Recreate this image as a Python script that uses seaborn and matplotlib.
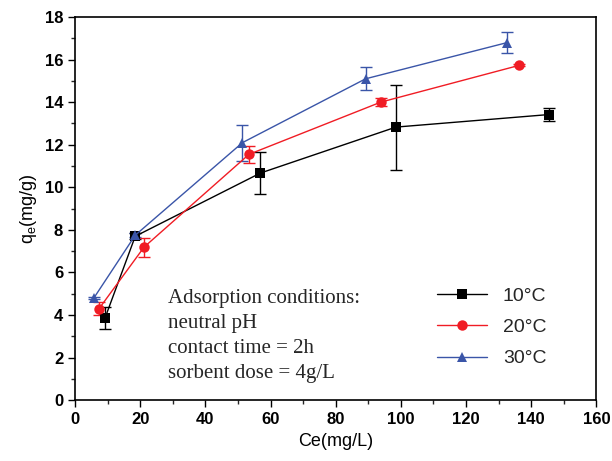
import pandas as pd
import matplotlib
matplotlib.use("Agg")
import matplotlib.pyplot as plt
import seaborn as sns
from matplotlib.ticker import MultipleLocator

# Data
ce_10 = [9.2, 18.5, 56.9, 98.5, 145.5]
qe_10 = [3.85, 7.7, 10.67, 12.83, 13.42]
err_10 = [0.52, 0.15, 1.0, 2.0, 0.3]

ce_20 = [7.4, 21.2, 53.4, 93.8, 136.3]
qe_20 = [4.3, 7.19, 11.55, 14.0, 15.73]
err_20 = [0.3, 0.45, 0.4, 0.2, 0.05]

ce_30 = [5.8, 18.5, 51.4, 89.2, 132.6]
qe_30 = [4.8, 7.75, 12.1, 15.1, 16.8]
err_30 = [0.05, 0.1, 0.85, 0.55, 0.5]

labels = ["10°C", "20°C", "30°C"]
colors = ["#000000", "#f01c24", "#3a55a8"]
markers = ["s", "o", "^"]

frames = []
for lab, x, y in zip(labels, [ce_10, ce_20, ce_30], [qe_10, qe_20, qe_30]):
    frames.append(pd.DataFrame({"Ce": x, "qe": y, "T": lab}))
df = pd.concat(frames, ignore_index=True)

sns.set_theme(style="white")
plt.rcParams["font.family"] = ["Liberation Sans", "DejaVu Sans"]

fig = plt.figure(figsize=(6.12, 4.61), dpi=100)
ax = fig.add_axes([0.1225, 0.132, 0.852, 0.831])

# error bars first, so markers sit on top
for x, y, e, c in zip([ce_10, ce_20, ce_30], [qe_10, qe_20, qe_30],
                      [err_10, err_20, err_30], colors):
    ax.errorbar(x, y, yerr=e, fmt="none", ecolor=c, elinewidth=1,
                capsize=4, capthick=1)

sns.lineplot(data=df, x="Ce", y="qe", hue="T", style="T",
             palette=colors, markers=markers, dashes=False,
             markersize=7.5, markeredgewidth=0, linewidth=1, ax=ax)

ax.set_xlim(0, 160)
ax.set_ylim(0, 18)
ax.xaxis.set_major_locator(MultipleLocator(20))
ax.xaxis.set_minor_locator(MultipleLocator(10))
ax.yaxis.set_major_locator(MultipleLocator(2))
ax.yaxis.set_minor_locator(MultipleLocator(1))
ax.tick_params(which="major", direction="out", length=5, width=1,
               bottom=True, left=True, labelsize=12, colors="black")
ax.tick_params(which="minor", direction="out", length=3, width=1,
               bottom=True, left=True)
for lbl in ax.get_xticklabels() + ax.get_yticklabels():
    lbl.set_fontweight("bold")
for sp in ax.spines.values():
    sp.set_color("black")
    sp.set_linewidth(1.2)

ax.set_xlabel("Ce(mg/L)", fontsize=13, color="black")
ax.set_ylabel("q$_\\mathregular{e}$(mg/g)", fontsize=13, color="black")

ax.legend(title=None, frameon=False, fontsize=14, loc="upper left",
          bbox_to_anchor=(0.66, 0.34), handlelength=2.6, labelspacing=0.7)

ax.text(0.178, 0.29, "Adsorption conditions:\nneutral pH\ncontact time = 2h\nsorbent dose = 4g/L",
        transform=ax.transAxes, fontsize=15, family="Liberation Serif",
        va="top", ha="left", linespacing=1.42)

fig.savefig("out.png", dpi=100)
